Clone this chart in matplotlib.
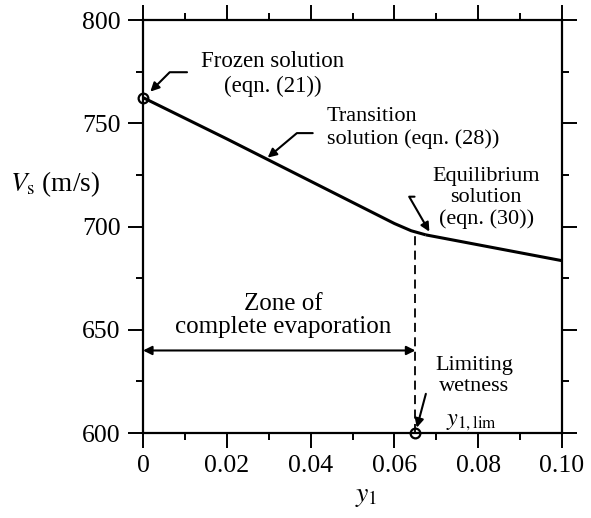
import matplotlib.pyplot as plt
import numpy as np

plt.rcParams['font.family'] = ['Liberation Serif', 'DejaVu Serif']
plt.rcParams['mathtext.fontset'] = 'stix'

# transition solution (eqn. 28)
y1_trans = [0.0, 0.02, 0.04, 0.06, 0.064, 0.0675]
vs_trans = [762.5, 742.5, 722.0, 701.5, 698.0, 696.0]
# equilibrium solution (eqn. 30)
y1_equil = [0.0675, 0.10]
vs_equil = [696.0, 683.5]

y1_frozen, vs_frozen = 0.0, 762.5   # frozen solution point
y1_lim = 0.065                       # limiting wetness
vs_zone = 640                        # level of the zone arrow

xticks = [0, 0.02, 0.04, 0.06, 0.08, 0.10]
xticklabels = ['0', '0.02', '0.04', '0.06', '0.08', '0.10']
yticks = [600, 650, 700, 750, 800]

fig = plt.figure(figsize=(5.91, 5.18), dpi=100)
ax = fig.add_axes([0.242, 0.164, 0.709, 0.797])

ax.plot(y1_trans, vs_trans, color='black', lw=2.2, solid_capstyle='butt')
ax.plot(y1_equil, vs_equil, color='black', lw=2.2, solid_capstyle='butt')
ax.plot([y1_lim, y1_lim], [600, vs_trans[-2] - 1], color='black', lw=1.3,
        dashes=(5, 3))
ax.plot([y1_frozen, y1_lim], [vs_frozen, 600], 'o', ms=7, mfc='none',
        mec='black', mew=1.6, clip_on=False, zorder=5)

# zone of complete evaporation arrow
ax.annotate('', xy=(0.0, vs_zone), xytext=(y1_lim, vs_zone),
            arrowprops=dict(arrowstyle='<|-|>', color='black', lw=1.5,
                            mutation_scale=13, shrinkA=0, shrinkB=0))

ax.text(0.0310, 774, 'Frozen solution\n(eqn. (21))', ha='center',
        va='center', fontsize=16.5, linespacing=1.2)
ax.text(0.0438, 747.7, 'Transition\nsolution (eqn. (28))', ha='left',
        va='center', fontsize=16, linespacing=1.2)
ax.text(0.0819, 713.8, 'Equilibrium\nsolution\n(eqn. (30))', ha='center',
        va='center', fontsize=16, linespacing=1.15)
ax.text(0.0334, 657, 'Zone of\ncomplete evaporation', ha='center',
        va='center', fontsize=18, linespacing=1.05)
ax.text(0.079, 627.5, 'Limiting\nwetness', ha='center', va='center',
        fontsize=16, linespacing=1.15)
ax.text(0.0785, 605, r'$y_{1,\mathrm{lim}}$', ha='center', va='center',
        fontsize=17.5)

arr = dict(arrowstyle='-|>', color='black', lw=1.5, mutation_scale=13,
           shrinkA=0, shrinkB=4)
ax.annotate('', xy=(0.0008, 763.5), xytext=(0.0105, 774.8),
            arrowprops=dict(arr, connectionstyle='angle,angleA=0,angleB=45,rad=0'))
ax.annotate('', xy=(0.0295, 733), xytext=(0.0405, 745.3),
            arrowprops=dict(arr, shrinkB=1,
                            connectionstyle='angle,angleA=0,angleB=40,rad=0'))
ax.annotate('', xy=(0.0685, 697), xytext=(0.0648, 714.5),
            arrowprops=dict(arr, shrinkB=1,
                            connectionstyle='angle,angleA=0,angleB=-60,rad=0'))
ax.annotate('', xy=(y1_lim, 600), xytext=(0.0675, 619),
            arrowprops=dict(arr))

ax.set_xlim(0, 0.10)
ax.set_ylim(600, 800)
ax.set_xticks(xticks)
ax.set_xticklabels(xticklabels)
ax.set_yticks(yticks)
ax.set_xticks(np.arange(0.01, 0.10, 0.02), minor=True)
ax.set_yticks([625, 675, 725, 775], minor=True)
ax.tick_params(which='both', direction='out', top=True, right=True,
               labelsize=18.5, width=1.4, color='black')
ax.tick_params(which='major', length=11, pad=5)
ax.tick_params(which='minor', length=5)
for s in ax.spines.values():
    s.set_linewidth(1.6)

ax.set_xlabel(r'$y_1$', fontsize=20, va='center')
ax.xaxis.set_label_coords(0.532, -0.153)
ax.set_ylabel(r'$V_\mathrm{s}$ (m/s)', fontsize=19.5, rotation=0,
              va='center', ha='center')
ax.yaxis.set_label_coords(-0.21, 0.603)

fig.savefig('out.png', dpi=100)
